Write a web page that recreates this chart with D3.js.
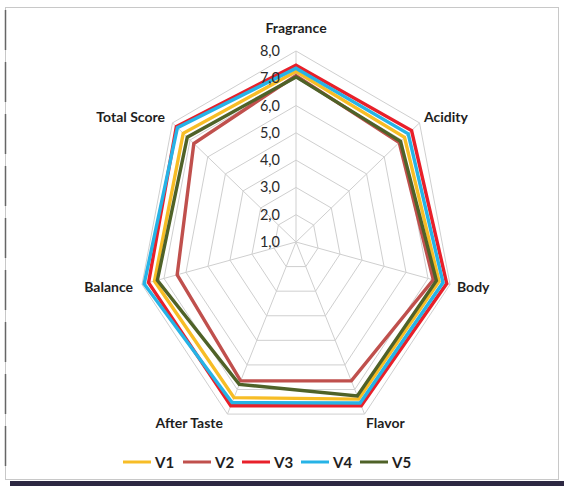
<!DOCTYPE html>
<html>
<head>
<meta charset="utf-8">
<script src="https://cdn.jsdelivr.net/npm/d3@7"></script>
<style>
  body { margin: 0; background: #fff; }
  svg { display: block; }
  .tick-label { font-family: Lato, "Open Sans", sans-serif; font-size: 14.5px; fill: #2a2a2a; }
  .axis-label { font-family: Lato, "Open Sans", sans-serif; font-size: 14px; font-weight: bold; fill: #1e1e1e; }
  .legend-label { font-family: Lato, "Open Sans", sans-serif; font-size: 15px; font-weight: bold; fill: #1e1e1e; }
</style>
</head>
<body>
<div id="chart"></div>
<script>
// Define SVG area dimensions
var svgWidth = 564;
var svgHeight = 486;

// Radar categories and series
var axes = ["Fragrance", "Acidity", "Body", "Flavor", "After Taste", "Balance", "Total Score"];
var seriesNames = ["V1", "V2", "V3", "V4", "V5"];
var seriesColors = ["#f7bd26", "#c0504d", "#e8202a", "#26b3e6", "#4f6228"];

var v1 = [7.25, 7.15, 7.5, 7.39, 7.33, 7.43, 7.39];
var v2 = [7.1, 6.85, 7.24, 6.65, 6.65, 6.4, 6.79];
var v3 = [7.48, 7.55, 7.85, 7.66, 7.66, 7.7, 7.78];
var v4 = [7.37, 7.36, 7.68, 7.55, 7.53, 7.9, 7.72];
var v5 = [7.05, 6.92, 7.38, 7.26, 6.79, 7.3, 7.16];
var seriesValues = [v1, v2, v3, v4, v5];

var ticks = [1, 2, 3, 4, 5, 6, 7, 8];

// Radar geometry (the picture is stretched a bit vertically)
var cx = 296, cy = 242;
var rx = 158, ry = 191;

var rScale = d3.scaleLinear().domain([1, 8]).range([0, 1]);
var angle = d3.scalePoint().domain(axes).range([0, 2 * Math.PI * (axes.length - 1) / axes.length]);

function px(i, v) { return cx + rx * rScale(v) * Math.sin(angle(axes[i])); }
function py(i, v) { return cy - ry * rScale(v) * Math.cos(angle(axes[i])); }

var svg = d3.select("#chart")
  .append("svg")
  .attr("width", svgWidth)
  .attr("height", svgHeight);

// frame of the screenshot
svg.append("rect")
  .attr("x", 5.5).attr("y", 7.5)
  .attr("width", 553).attr("height", 472)
  .attr("fill", "#fff")
  .attr("stroke", "#c8c8c8");
svg.append("line")
  .attr("x1", 5.5).attr("x2", 5.5).attr("y1", 10).attr("y2", 476)
  .attr("stroke", "#666").attr("stroke-width", 1.5)
  .attr("stroke-dasharray", "40,12");
svg.append("rect")
  .attr("x", 10).attr("y", 481)
  .attr("width", 554).attr("height", 5)
  .attr("fill", "#2d2842");

var gridGroup = svg.append("g");

// rings
var ringLine = d3.line().curve(d3.curveLinearClosed);
ticks.slice(1).forEach(function (t) {
  var pts = axes.map(function (a, i) { return [px(i, t), py(i, t)]; });
  gridGroup.append("path")
    .attr("d", ringLine(pts))
    .attr("fill", "none")
    .attr("stroke", "#cfcfcf")
    .attr("stroke-width", 1);
});

// spokes
axes.forEach(function (a, i) {
  gridGroup.append("line")
    .attr("x1", cx).attr("y1", cy)
    .attr("x2", px(i, 8)).attr("y2", py(i, 8))
    .attr("stroke", "#cfcfcf")
    .attr("stroke-width", 1);
});

// series
var seriesGroup = svg.append("g");
seriesValues.forEach(function (vals, s) {
  var pts = vals.map(function (v, i) { return [px(i, v), py(i, v)]; });
  seriesGroup.append("path")
    .attr("d", ringLine(pts))
    .attr("fill", "none")
    .attr("stroke", seriesColors[s])
    .attr("stroke-width", 3.4)
    .attr("stroke-linejoin", "miter");
});

// tick labels
var fmt = function (d) { return d3.format(".1f")(d).replace(".", ","); };
svg.append("g").selectAll("text")
  .data(ticks)
  .enter()
  .append("text")
  .attr("class", "tick-label")
  .attr("x", cx - 16)
  .attr("y", d => py(0, d) + 5)
  .attr("text-anchor", "end")
  .text(fmt);

// axis labels
var labelPos = [
  { x: 296, y: 33, anchor: "middle" },
  { x: 424, y: 122, anchor: "start" },
  { x: 457, y: 292, anchor: "start" },
  { x: 366, y: 428, anchor: "start" },
  { x: 223, y: 428, anchor: "end" },
  { x: 133, y: 292, anchor: "end" },
  { x: 165, y: 122, anchor: "end" }
];
svg.append("g").selectAll("text")
  .data(axes)
  .enter()
  .append("text")
  .attr("class", "axis-label")
  .attr("x", (d, i) => labelPos[i].x)
  .attr("y", (d, i) => labelPos[i].y)
  .attr("text-anchor", (d, i) => labelPos[i].anchor)
  .text(d => d);

// legend
var legendX = [123, 183, 242, 301, 360];
var legend = svg.append("g");
seriesNames.forEach(function (name, s) {
  legend.append("line")
    .attr("x1", legendX[s]).attr("x2", legendX[s] + 28)
    .attr("y1", 462).attr("y2", 462)
    .attr("stroke", seriesColors[s])
    .attr("stroke-width", 3);
  legend.append("text")
    .attr("class", "legend-label")
    .attr("x", legendX[s] + 32)
    .attr("y", 467.5)
    .text(name);
});
</script>
</body>
</html>
